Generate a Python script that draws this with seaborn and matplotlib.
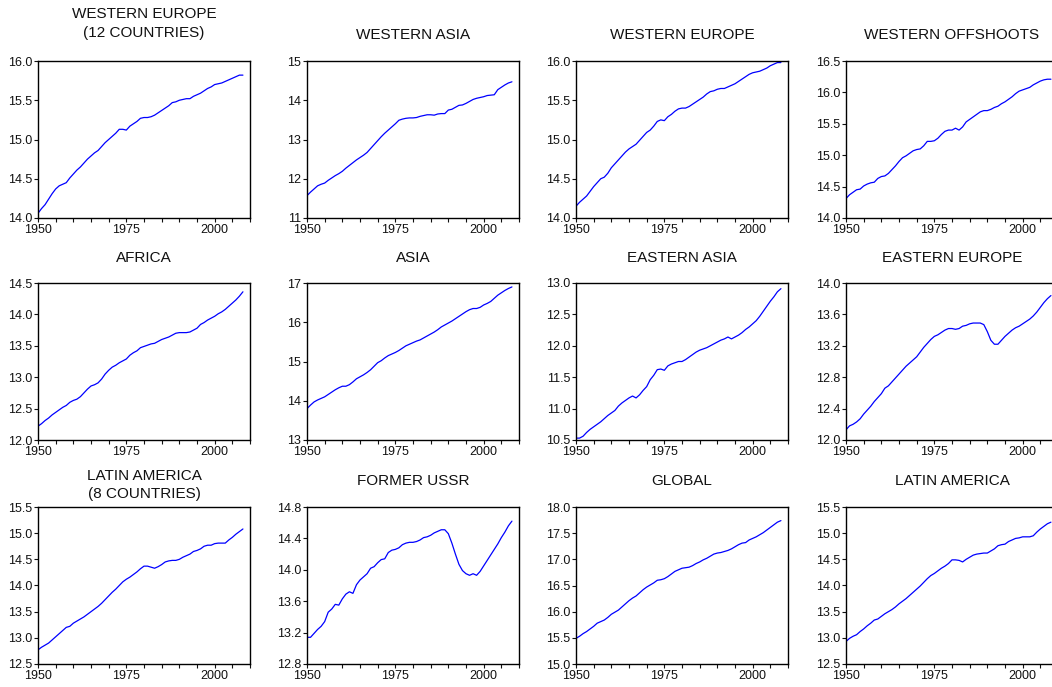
import numpy as np
import pandas as pd
import matplotlib
matplotlib.use("Agg")
import matplotlib.pyplot as plt
import seaborn as sns
from matplotlib.ticker import MultipleLocator, FormatStrFormatter

years = list(range(1950, 2009))

titles = ["WESTERN EUROPE\n(12 COUNTRIES)", "WESTERN ASIA", "WESTERN EUROPE", "WESTERN OFFSHOOTS",
          "AFRICA", "ASIA", "EASTERN ASIA", "EASTERN EUROPE",
          "LATIN AMERICA\n(8 COUNTRIES)", "FORMER USSR", "GLOBAL", "LATIN AMERICA"]

western_europe_12 = [14.06, 14.12, 14.17, 14.24, 14.31, 14.37, 14.41, 14.43, 14.45, 14.51,
                     14.56, 14.61, 14.65, 14.70, 14.75, 14.79, 14.83, 14.86, 14.91, 14.96,
                     15.00, 15.04, 15.08, 15.13, 15.13, 15.12, 15.17, 15.20, 15.23, 15.27,
                     15.28, 15.28, 15.29, 15.31, 15.34, 15.37, 15.40, 15.43, 15.47, 15.48,
                     15.50, 15.51, 15.52, 15.52, 15.55, 15.57, 15.59, 15.62, 15.65, 15.67,
                     15.70, 15.71, 15.72, 15.74, 15.76, 15.78, 15.80, 15.82, 15.82]
western_asia = [11.57, 11.66, 11.74, 11.82, 11.86, 11.89, 11.96, 12.02, 12.08, 12.13,
                12.19, 12.27, 12.34, 12.41, 12.48, 12.54, 12.60, 12.67, 12.77, 12.87,
                12.97, 13.07, 13.16, 13.24, 13.32, 13.40, 13.49, 13.52, 13.54, 13.55,
                13.55, 13.56, 13.59, 13.61, 13.63, 13.63, 13.62, 13.65, 13.66, 13.66,
                13.75, 13.77, 13.82, 13.87, 13.88, 13.92, 13.97, 14.02, 14.05, 14.07,
                14.09, 14.12, 14.13, 14.14, 14.27, 14.33, 14.39, 14.44, 14.47]
western_europe = [14.15, 14.20, 14.24, 14.28, 14.34, 14.40, 14.45, 14.50, 14.52, 14.57,
                  14.64, 14.69, 14.74, 14.79, 14.84, 14.88, 14.91, 14.94, 14.99, 15.04,
                  15.09, 15.12, 15.17, 15.23, 15.25, 15.24, 15.29, 15.32, 15.36, 15.39,
                  15.40, 15.40, 15.42, 15.45, 15.48, 15.51, 15.54, 15.58, 15.61, 15.62,
                  15.64, 15.65, 15.65, 15.67, 15.69, 15.71, 15.74, 15.77, 15.80, 15.83,
                  15.85, 15.86, 15.87, 15.89, 15.91, 15.94, 15.96, 15.98, 15.98]
western_offshoots = [14.31, 14.37, 14.41, 14.45, 14.46, 14.51, 14.54, 14.56, 14.57, 14.63,
                     14.66, 14.67, 14.71, 14.77, 14.83, 14.90, 14.96, 14.99, 15.03, 15.07,
                     15.09, 15.10, 15.15, 15.22, 15.22, 15.23, 15.27, 15.33, 15.38, 15.40,
                     15.40, 15.43, 15.40, 15.45, 15.53, 15.57, 15.61, 15.65, 15.69, 15.71,
                     15.71, 15.73, 15.76, 15.78, 15.82, 15.85, 15.89, 15.93, 15.98, 16.02,
                     16.04, 16.06, 16.08, 16.12, 16.15, 16.18, 16.20, 16.21, 16.21]
africa = [12.22, 12.26, 12.31, 12.35, 12.40, 12.44, 12.48, 12.52, 12.55, 12.60,
          12.63, 12.65, 12.69, 12.75, 12.81, 12.86, 12.88, 12.91, 12.97, 13.05,
          13.11, 13.16, 13.19, 13.23, 13.26, 13.29, 13.35, 13.39, 13.42, 13.47,
          13.49, 13.51, 13.53, 13.54, 13.57, 13.60, 13.62, 13.64, 13.67, 13.70,
          13.71, 13.71, 13.71, 13.72, 13.75, 13.78, 13.84, 13.87, 13.91, 13.94,
          13.97, 14.01, 14.04, 14.08, 14.13, 14.18, 14.23, 14.29, 14.36]
asia = [13.80, 13.89, 13.97, 14.02, 14.06, 14.10, 14.16, 14.22, 14.28, 14.33,
        14.37, 14.37, 14.41, 14.48, 14.56, 14.61, 14.66, 14.72, 14.79, 14.88,
        14.97, 15.02, 15.09, 15.15, 15.19, 15.23, 15.28, 15.34, 15.40, 15.44,
        15.48, 15.52, 15.55, 15.60, 15.65, 15.70, 15.75, 15.81, 15.88, 15.93,
        15.98, 16.03, 16.09, 16.15, 16.21, 16.27, 16.32, 16.35, 16.35, 16.38,
        16.44, 16.48, 16.53, 16.61, 16.69, 16.75, 16.81, 16.86, 16.90]
eastern_asia = [10.53, 10.53, 10.56, 10.62, 10.67, 10.71, 10.75, 10.79, 10.84, 10.89,
                10.93, 10.97, 11.04, 11.09, 11.13, 11.17, 11.20, 11.17, 11.22, 11.29,
                11.35, 11.46, 11.53, 11.62, 11.63, 11.61, 11.68, 11.71, 11.73, 11.75,
                11.75, 11.78, 11.82, 11.86, 11.90, 11.93, 11.95, 11.97, 12.00, 12.03,
                12.06, 12.09, 12.11, 12.14, 12.11, 12.14, 12.17, 12.21, 12.26, 12.30,
                12.35, 12.40, 12.47, 12.55, 12.63, 12.71, 12.78, 12.86, 12.91]
eastern_europe = [12.13, 12.18, 12.20, 12.23, 12.27, 12.33, 12.38, 12.43, 12.49, 12.54,
                  12.59, 12.66, 12.69, 12.74, 12.79, 12.84, 12.89, 12.94, 12.98, 13.02,
                  13.06, 13.12, 13.18, 13.23, 13.28, 13.32, 13.34, 13.37, 13.40, 13.42,
                  13.42, 13.41, 13.42, 13.45, 13.46, 13.48, 13.49, 13.49, 13.49, 13.47,
                  13.38, 13.27, 13.22, 13.22, 13.27, 13.32, 13.36, 13.40, 13.43, 13.45,
                  13.48, 13.51, 13.54, 13.58, 13.63, 13.69, 13.75, 13.80, 13.84]
latin_america_8 = [12.77, 12.82, 12.86, 12.90, 12.96, 13.02, 13.08, 13.14, 13.20, 13.22,
                   13.28, 13.32, 13.36, 13.40, 13.45, 13.50, 13.55, 13.60, 13.66, 13.73,
                   13.80, 13.87, 13.93, 14.00, 14.07, 14.12, 14.16, 14.21, 14.26, 14.32,
                   14.37, 14.37, 14.35, 14.33, 14.36, 14.40, 14.45, 14.47, 14.48, 14.48,
                   14.50, 14.54, 14.57, 14.60, 14.65, 14.67, 14.70, 14.75, 14.77, 14.77,
                   14.80, 14.81, 14.81, 14.81, 14.87, 14.92, 14.98, 15.03, 15.08]
former_ussr = [13.14, 13.14, 13.19, 13.24, 13.28, 13.34, 13.46, 13.50, 13.56, 13.55,
               13.63, 13.69, 13.72, 13.70, 13.81, 13.87, 13.91, 13.95, 14.02, 14.04,
               14.09, 14.13, 14.14, 14.22, 14.25, 14.26, 14.28, 14.32, 14.34, 14.35,
               14.35, 14.36, 14.38, 14.41, 14.42, 14.44, 14.47, 14.49, 14.51, 14.51,
               14.46, 14.34, 14.20, 14.07, 13.99, 13.95, 13.93, 13.95, 13.93, 13.98,
               14.05, 14.12, 14.19, 14.26, 14.33, 14.41, 14.48, 14.56, 14.62]
global_ = [15.49, 15.53, 15.58, 15.62, 15.67, 15.72, 15.78, 15.81, 15.84, 15.89,
           15.95, 15.99, 16.03, 16.09, 16.15, 16.21, 16.26, 16.30, 16.36, 16.42,
           16.47, 16.51, 16.55, 16.60, 16.61, 16.63, 16.67, 16.72, 16.77, 16.80,
           16.83, 16.84, 16.85, 16.88, 16.92, 16.95, 16.99, 17.02, 17.06, 17.10,
           17.12, 17.13, 17.15, 17.17, 17.20, 17.24, 17.28, 17.31, 17.32, 17.37,
           17.40, 17.43, 17.47, 17.51, 17.56, 17.61, 17.66, 17.71, 17.74]
latin_america = [12.93, 12.99, 13.03, 13.06, 13.12, 13.17, 13.23, 13.28, 13.34, 13.36,
                 13.41, 13.46, 13.50, 13.54, 13.59, 13.65, 13.70, 13.75, 13.81, 13.87,
                 13.93, 13.99, 14.06, 14.13, 14.19, 14.23, 14.28, 14.33, 14.37, 14.42,
                 14.49, 14.49, 14.48, 14.45, 14.50, 14.54, 14.58, 14.60, 14.61, 14.62,
                 14.62, 14.66, 14.70, 14.76, 14.78, 14.79, 14.84, 14.87, 14.90, 14.91,
                 14.93, 14.93, 14.93, 14.95, 15.02, 15.08, 15.13, 15.18, 15.21]

series = [western_europe_12, western_asia, western_europe, western_offshoots,
          africa, asia, eastern_asia, eastern_europe,
          latin_america_8, former_ussr, global_, latin_america]

ylims = [(14.0, 16.0), (11, 15), (14.0, 16.0), (14.0, 16.5),
         (12.0, 14.5), (13, 17), (10.5, 13.0), (12.0, 14.0),
         (12.5, 15.5), (12.8, 14.8), (15.0, 18.0), (12.5, 15.5)]
ysteps = [0.5, 1, 0.5, 0.5, 0.5, 1, 0.5, 0.4, 0.5, 0.4, 0.5, 0.5]
yfmts = ["%.1f", "%d", "%.1f", "%.1f", "%.1f", "%d", "%.1f", "%.1f", "%.1f", "%.1f", "%.1f", "%.1f"]
title_offsets = [27, 18.7, 18.7, 18.7, 18.0, 18.0, 18.0, 18.0, 15.8, 18.7, 18.7, 18.7]

sns.set_theme(style="white")
plt.rcParams["font.family"] = ["Liberation Sans", "DejaVu Sans"]

W, H = 1052, 687
fig = plt.figure(figsize=(W / 100, H / 100), dpi=100)

col_left = [38, 307, 576, 846]
row_top = [61, 283, 507]
aw, ah = 212, 157

for i in range(12):
    r, c = divmod(i, 4)
    l = col_left[c]
    t = row_top[r]
    ax = fig.add_axes([l / W, (H - t - ah) / H, aw / W, ah / H])
    df = pd.DataFrame({"year": years, "value": series[i]})
    sns.lineplot(data=df, x="year", y="value", ax=ax, color="#0000ff", linewidth=0.9)
    ax.set_xlim(1950, 2010)
    ax.set_ylim(*ylims[i])
    ax.xaxis.set_major_locator(MultipleLocator(25))
    ax.xaxis.set_minor_locator(MultipleLocator(5))
    ax.yaxis.set_major_locator(MultipleLocator(ysteps[i]))
    ax.yaxis.set_major_formatter(FormatStrFormatter(yfmts[i]))
    ax.set_xlabel("")
    ax.set_ylabel("")
    ax.tick_params(axis="both", which="both", direction="out", length=3, width=0.8,
                   labelsize=9, pad=1.2, colors="#111111", bottom=True, left=True,
                   top=False, right=False)
    ax.tick_params(axis="y", which="minor", left=False)
    for sp in ax.spines.values():
        sp.set_color("black")
        sp.set_linewidth(1.0)
    ax.annotate(titles[i], xy=(0.5, 1.0), xycoords="axes fraction",
                xytext=(0, title_offsets[i]), textcoords="offset points",
                ha="center", va="center", fontsize=11, color="#111111",
                linespacing=1.4)

fig.savefig("out.png", dpi=100)
